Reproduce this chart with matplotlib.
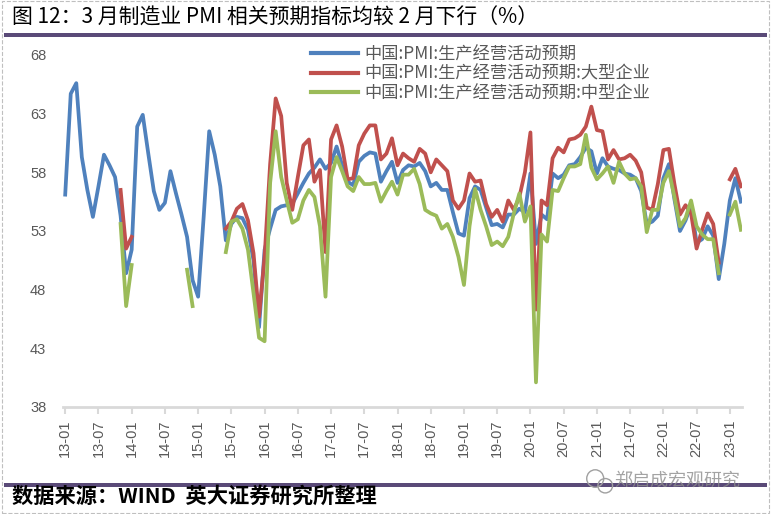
import numpy as np
import pandas as pd
import matplotlib.pyplot as plt
from matplotlib.patches import Rectangle, Ellipse
from matplotlib.lines import Line2D

plt.rcParams['font.family'] = ['Noto Sans CJK SC', 'DejaVu Sans']
plt.rcParams['axes.unicode_minus'] = False

months = pd.period_range('2013-01', '2023-03', freq='M').strftime('%y-%m').tolist()
n = None

# 中国:PMI:生产经营活动预期
total = [56.1, 64.7, 65.6, 59.3, 56.5, 54.2, 56.8, 59.5, 58.6, 57.6, 54.3, 49.4,
         51.4, 61.9, 62.9, 59.6, 56.4, 54.8, 55.4, 58.1, 56.2, 54.4, 52.5, 48.8,
         47.4, 54.2, 61.5, 59.5, 56.8, 52.2, 53.6, 54.2, 54.1, 53.1, 50.5, 44.8,
         51.4, 53.2, 54.8, 55.1, 55.2, 55.3, 56.2, 57.1, 57.9, 58.4, 59.1, 58.3,
         58.8, 60.2, 58.6, 57.2, 56.9, 58.9, 59.4, 59.7, 59.6, 57.2, 58.1, 58.9,
         57.1, 58.2, 58.6, 58.5, 58.8, 58.1, 56.8, 57.1, 56.5, 56.5, 54.6, 52.8,
         52.6, 55.8, 56.8, 56.5, 55.0, 53.5, 53.6, 53.3, 54.4, 54.4, 54.9, 54.6,
         57.9, 51.9, 54.4, 54.0, 57.9, 57.5, 57.8, 58.6, 58.7, 59.3, 60.1, 59.8,
         57.9, 59.2, 58.5, 58.3, 58.2, 57.9, 57.8, 57.5, 56.4, 53.6, 53.8, 54.3,
         57.5, 58.7, 55.7, 53.0, 53.9, 55.2, 52.0, 52.3, 53.4, 52.6, 48.9, 51.9,
         55.6, 57.5, 55.5]

# 大型企业
large = [n, n, n, n, n, n, n, n, n, n, 56.5, 51.5,
         52.5, n, n, n, n, n, n, n, n, n, n, n,
         n, n, n, n, n, 53.2, 53.8, 54.9, 55.3, 53.9, 51.1, 45.7,
         50.8, 58.7, 64.3, 62.8, 57.1, 54.8, 57.6, 60.3, 60.8, 57.2, 58.2, 51.2,
         60.8, 62.0, 60.2, 57.4, 57.5, 60.3, 61.3, 62.0, 62.0, 59.1, 59.6, 60.9,
         58.6, 59.6, 59.2, 58.9, 60.0, 59.6, 58.0, 59.1, 58.6, 58.1, 55.6, 54.9,
         55.6, 57.9, 57.2, 57.3, 55.3, 54.2, 54.8, 53.8, 55.6, 54.8, 55.9, 58.0,
         61.4, 46.3, 55.6, 55.2, 59.2, 60.1, 59.7, 60.8, 60.9, 61.2, 61.9, 63.6,
         61.6, 61.5, 59.1, 59.9, 59.1, 59.2, 59.5, 59.0, 58.0, 55.0, 54.8, 57.0,
         59.9, 60.0, 57.0, 54.4, 55.2, 54.5, 51.5, 53.1, 54.5, 53.6, 50.3, n,
         57.4, 58.3, 56.8]

# 中型企业
medium = [n, n, n, n, n, n, n, n, n, n, 53.6, 46.6,
          50.1, n, n, n, n, n, n, n, n, n, 49.7, 46.6,
          n, n, n, n, n, 51.2, 53.8, 54.0, 53.2, 51.4, 47.7, 43.9,
          43.6, 57.1, 61.5, 57.6, 55.6, 53.7, 54.0, 55.6, 56.5, 55.9, 53.4, 47.4,
          57.6, 59.3, 58.1, 56.8, 56.4, 57.6, 57.0, 57.0, 57.1, 55.5, 56.4, 57.2,
          56.1, 57.8, 57.8, 58.3, 57.0, 54.8, 54.5, 54.3, 53.2, 53.6, 52.5, 50.8,
          48.4, 53.4, 56.6, 54.8, 53.4, 51.8, 52.1, 51.7, 52.5, 54.5, 56.2, 53.8,
          55.1, 40.1, 52.7, 52.1, 56.5, 56.4, 57.5, 58.5, 58.5, 58.7, 61.2, 58.4,
          57.4, 57.9, 58.5, 57.1, 58.9, 57.9, 57.4, 57.5, 56.8, 52.9, 54.8, 54.8,
          57.1, 58.1, 55.9, 53.4, 54.1, 55.6, 53.4, 52.7, 52.3, 52.3, 49.4, n,
          54.4, 55.5, 53.1]

labels = ['中国:PMI:生产经营活动预期',
          '中国:PMI:生产经营活动预期:大型企业',
          '中国:PMI:生产经营活动预期:中型企业']
colors = ['#4F81BD', '#C0504D', '#9BBB59']

fig = plt.figure(figsize=(7.71, 5.14), dpi=100)
ax = fig.add_axes([0.0817, 0.2082, 0.8807, 0.6848])

x = np.arange(len(months))
for s, c, lab in zip([total, large, medium], colors, labels):
    y = np.array([np.nan if v is None else v for v in s], dtype=float)
    ax.plot(x, y, color=c, lw=2.7, label=lab, solid_joinstyle='round')

ax.set_xlim(-0.4, len(months) - 0.8)
ax.set_ylim(38, 68)
ax.set_yticks(np.arange(38, 69, 5))
ax.set_xticks(x[::6])
ax.set_xticklabels(months[::6], rotation=90, fontsize=10.5, color='#595959',
                   family=['Liberation Sans', 'DejaVu Sans'])
for t in ax.get_yticklabels():
    t.set_fontsize(10.5)
    t.set_color('#595959')
    t.set_family(['Liberation Sans', 'DejaVu Sans'])
for sp in ['left', 'right', 'top']:
    ax.spines[sp].set_visible(False)
ax.spines['bottom'].set_color('#D9D9D9')
ax.spines['bottom'].set_linewidth(2)
ax.tick_params(axis='y', length=0, pad=12)
ax.tick_params(axis='x', direction='out', length=5, width=1.5, color='#D9D9D9', pad=4)

handles = [Line2D([], [], color=c, lw=3) for c in colors]
fig.legend(handles, labels, loc='upper left', bbox_to_anchor=(0.395, 0.925),
           frameon=False, fontsize=12.4, handlelength=2.7, handletextpad=0.4,
           labelspacing=0.08, borderaxespad=0, labelcolor='#595959')

# 标题与来源
fig.text(0.016, 0.965, '图 12：3 月制造业 PMI 相关预期指标均较 2 月下行（%）',
         fontsize=15, va='center', ha='left')
fig.patches.append(Rectangle((0.005, 0.928), 0.99, 0.008, transform=fig.transFigure,
                             color='#5A4A78', lw=0))
fig.patches.append(Rectangle((0.005, 0.053), 0.99, 0.008, transform=fig.transFigure,
                             color='#5A4A78', lw=0))
fig.text(0.016, 0.034, '数据来源：WIND  英大证券研究所整理', fontsize=15.3,
         fontweight='bold', va='center', ha='left')
# 水印
fig.patches.append(Ellipse((0.772, 0.069), 0.022, 0.034, transform=fig.transFigure,
                           fill=False, ec='#a0a0a0', lw=1))
fig.patches.append(Ellipse((0.785, 0.055), 0.019, 0.028, transform=fig.transFigure,
                           fill=False, ec='#a0a0a0', lw=1))
fig.text(0.797, 0.064, '郑启成宏观研究', fontsize=13, color='#8c8c8c',
         va='center', ha='left', alpha=0.8)
fig.patches.append(Rectangle((0.002, 0.002), 0.996, 0.996, transform=fig.transFigure,
                             fill=False, ec='#BFBFBF', lw=0.8, ls='--'))

fig.savefig('out.png', dpi=100)
